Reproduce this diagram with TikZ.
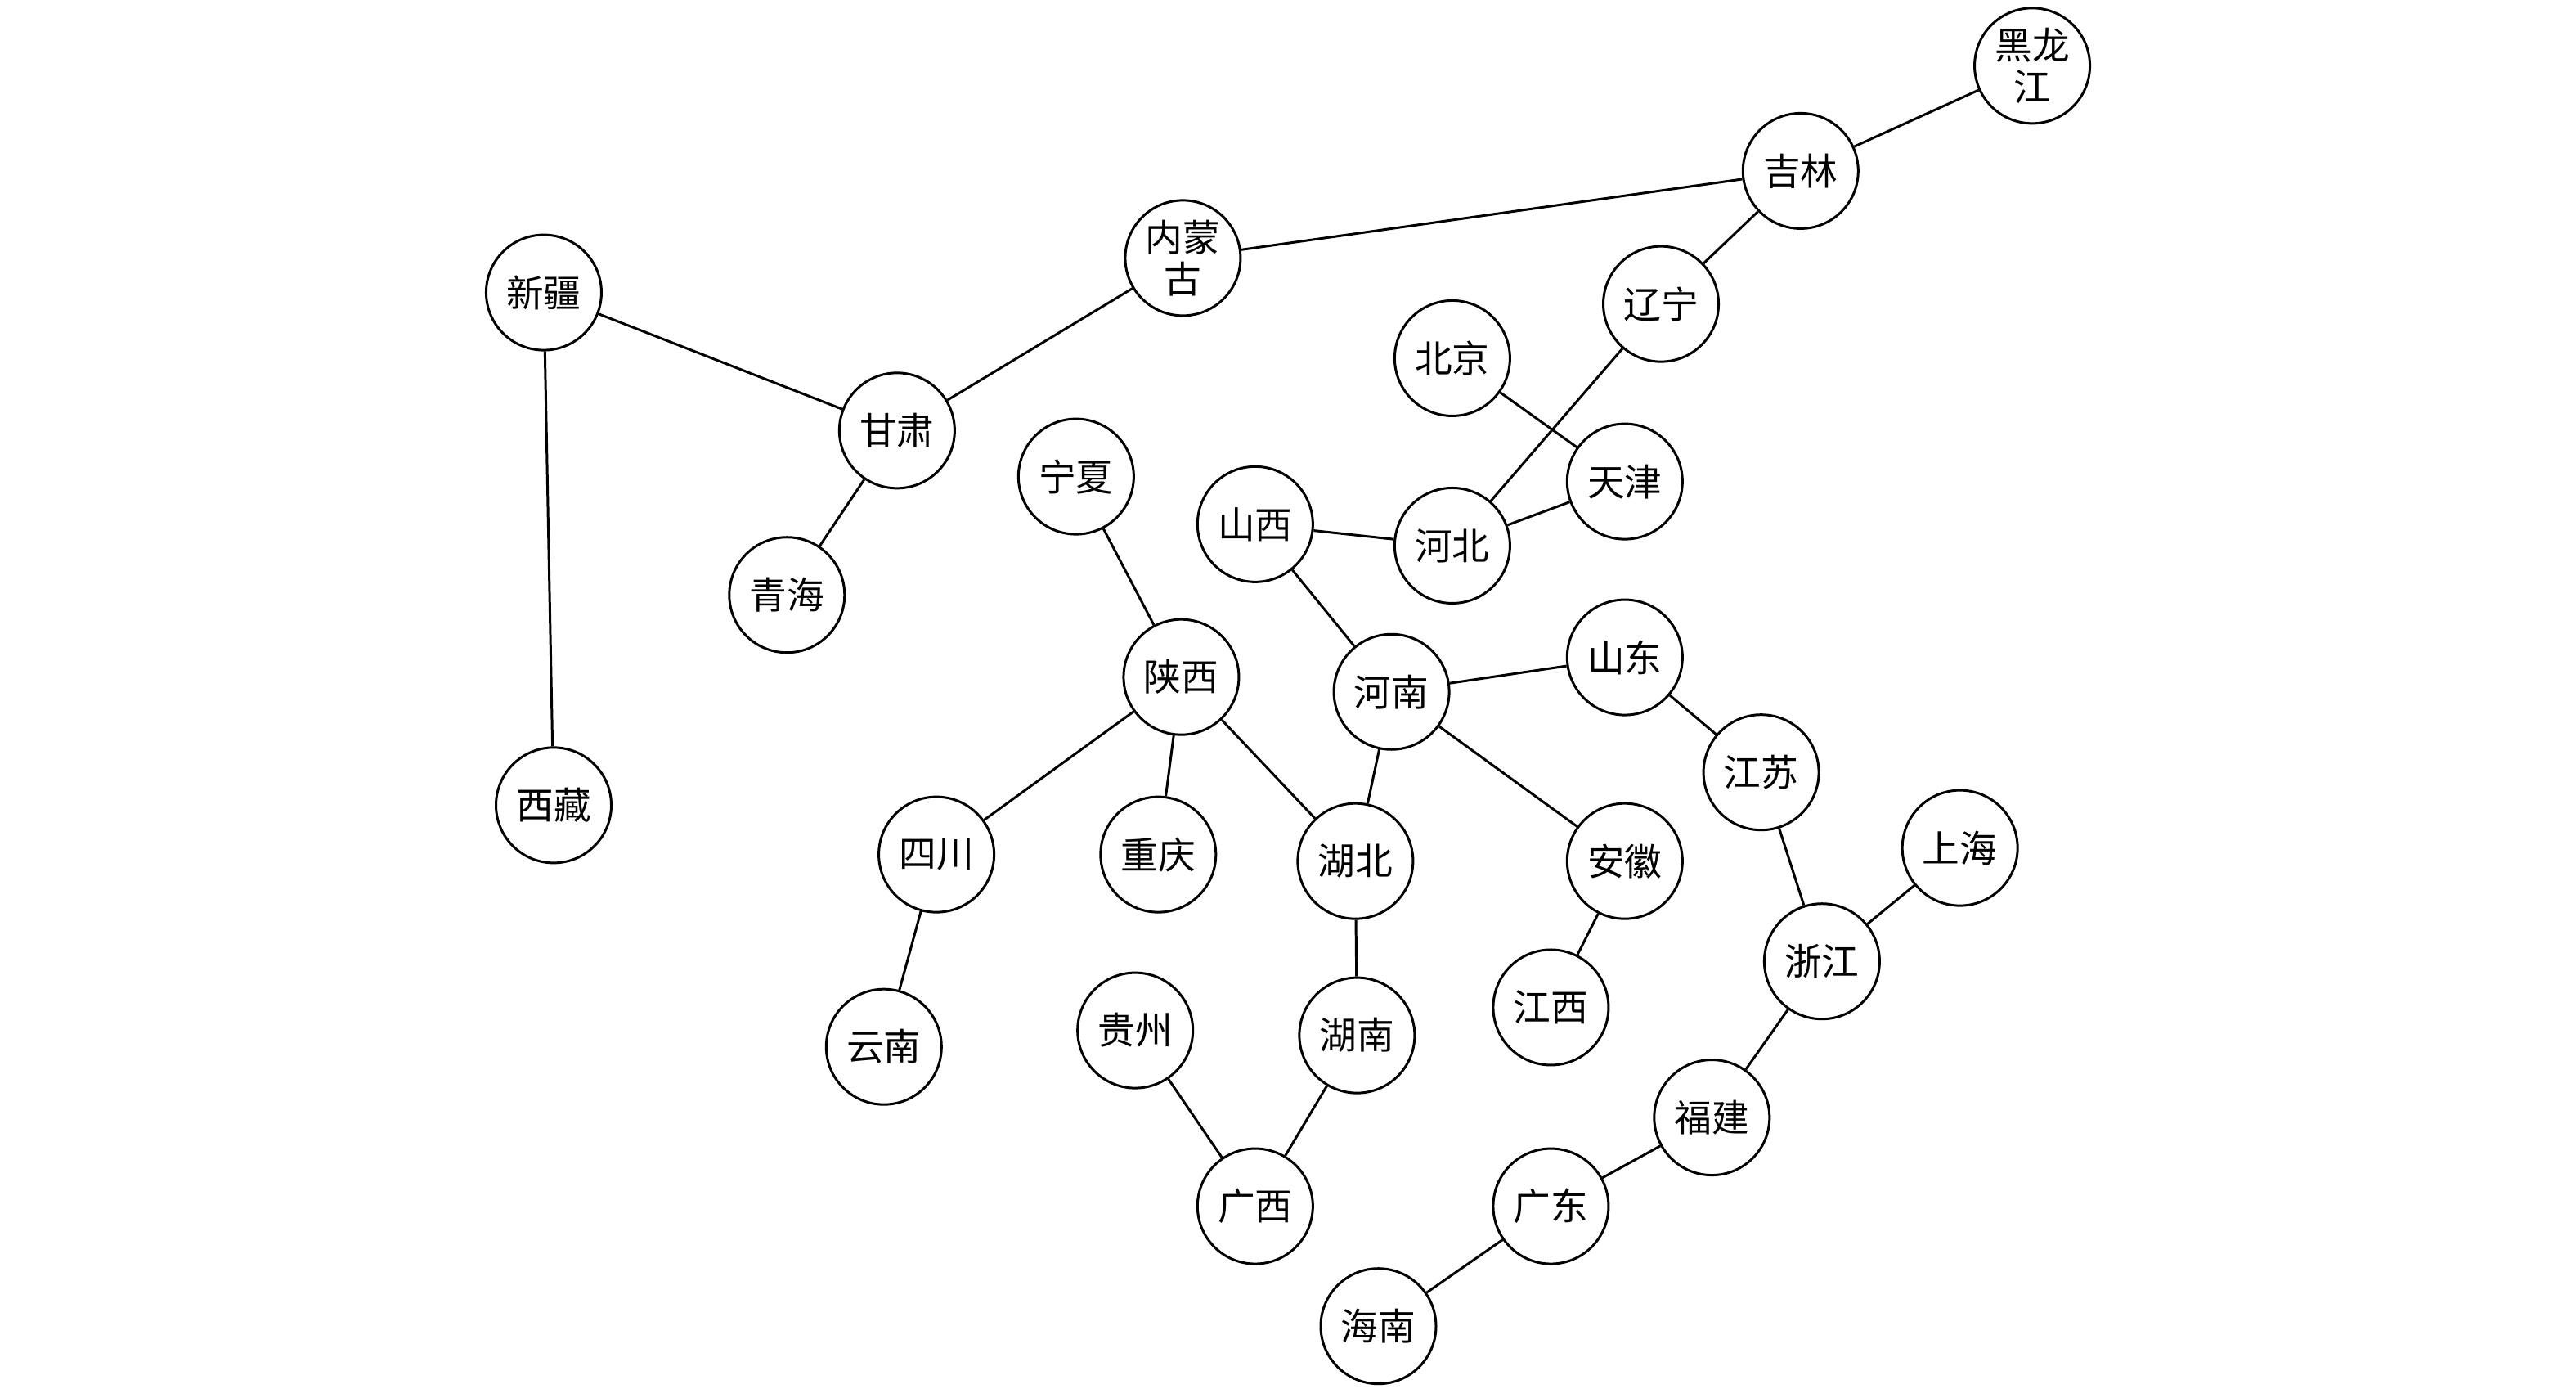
\documentclass[tikz,border=0pt]{standalone}
\usepackage{fontspec}
\setmainfont{Noto Sans CJK SC}

\begin{document}
\begin{tikzpicture}
  [x=0.2009mm,y=-0.2009mm,
   every node/.style={circle,draw,line width=0.85pt,minimum size=14.1mm,inner sep=0pt,
     align=center,font=\fontsize{13}{14.5}\selectfont}]
  \useasboundingbox (0,0) rectangle (1568,845);
  \node (heilongjiang) at (1237,40) {黑龙\\江};
  \node (jilin) at (1096,104) {吉林};
  \node (neimenggu) at (720,157) {内蒙\\古};
  \node (xinjiang) at (331,178) {新疆};
  \node (liaoning) at (1011,185) {辽宁};
  \node (beijing) at (884,218) {北京};
  \node (gansu) at (546,262) {甘肃};
  \node (ningxia) at (655,290) {宁夏};
  \node (tianjin) at (989,293) {天津};
  \node (shanxi) at (764,319) {山西};
  \node (hebei) at (884,332) {河北};
  \node (qinghai) at (479,362) {青海};
  \node (shandong) at (989,400) {山东};
  \node (shaanxi) at (719,412) {陕西};
  \node (henan) at (847,421) {河南};
  \node (jiangsu) at (1072,470) {江苏};
  \node (xizang) at (337,490) {西藏};
  \node (sichuan) at (570,520) {四川};
  \node (chongqing) at (705,520) {重庆};
  \node (hubei) at (825,524) {湖北};
  \node (anhui) at (989,524) {安徽};
  \node (shanghai) at (1193,516) {上海};
  \node (zhejiang) at (1109,585) {浙江};
  \node (jiangxi) at (944,613) {江西};
  \node (yunnan) at (538,637) {云南};
  \node (guizhou) at (691,627) {贵州};
  \node (hunan) at (826,630) {湖南};
  \node (fujian) at (1042,680) {福建};
  \node (guangxi) at (764,734) {广西};
  \node (guangdong) at (944,734) {广东};
  \node (hainan) at (839,807) {海南};

  \foreach \from/\to in {heilongjiang/jilin,jilin/neimenggu,jilin/liaoning,liaoning/hebei,
      beijing/tianjin,tianjin/hebei,neimenggu/gansu,xinjiang/gansu,xinjiang/xizang,
      gansu/qinghai,ningxia/shaanxi,shanxi/hebei,shanxi/henan,henan/shandong,henan/hubei,
      henan/anhui,shandong/jiangsu,shaanxi/sichuan,shaanxi/chongqing,shaanxi/hubei,
      sichuan/yunnan,hubei/hunan,anhui/jiangxi,jiangsu/zhejiang,shanghai/zhejiang,
      zhejiang/fujian,fujian/guangdong,guangdong/hainan,guizhou/guangxi,hunan/guangxi}
    \draw [line width=0.85pt] (\from) -- (\to);

\end{tikzpicture}
\end{document}
